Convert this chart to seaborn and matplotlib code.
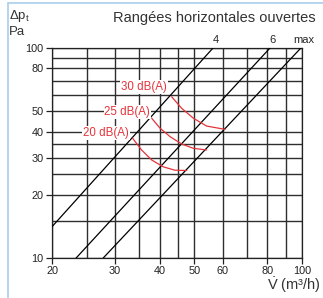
import numpy as np
import pandas as pd
import matplotlib.pyplot as plt
import seaborn as sns
from matplotlib.lines import Line2D
from matplotlib.ticker import NullLocator

sns.set_style('white')
plt.rcParams['font.family'] = ['Liberation Sans', 'DejaVu Sans']
plt.rcParams['mathtext.fontset'] = 'custom'
plt.rcParams['mathtext.rm'] = 'Liberation Sans'
plt.rcParams['mathtext.it'] = 'Liberation Sans'

# grille et graduations
x_grid = [20, 25, 30, 35, 40, 45, 50, 60, 70, 80, 90, 100]
y_grid = [10, 15, 20, 25, 30, 35, 40, 50, 60, 70, 80, 90, 100]
x_ticks = [20, 30, 40, 50, 60, 80, 100]
y_ticks = [10, 20, 30, 40, 50, 80, 100]

# droites de réglage (débit m3/h, perte de charge Pa)
line_names = ['4', '6', 'max']
line_v = [[20, 56.4], [23.35, 81.4], [27.8, 99.3]]
line_p = [[14.1, 100], [10, 100], [10, 100]]

# courbes de niveau sonore
arc_labels = ['20 dB(A)', '25 dB(A)', '30 dB(A)']
arc_v = [[33.6, 35.6, 38.0, 40.9, 44.1, 47.6],
         [38.0, 40.1, 42.8, 46.1, 49.7, 54.1],
         [43.2, 46.1, 49.7, 54.1, 60.9]]
arc_p = [[37.2, 32.7, 29.3, 27.2, 26.2, 26.1],
         [46.3, 41.5, 37.8, 34.9, 33.3, 32.7],
         [58.6, 51.6, 46.3, 42.5, 41.0]]
label_v = [32.8, 37.6, 41.9]
label_p = [39.4, 49.7, 65.0]

red = '#e5333a'

fig, ax = plt.subplots(figsize=(3.23, 2.98), dpi=100)
fig.subplots_adjust(left=0.161, right=0.935, bottom=0.134, top=0.839)
ax.set_xscale('log')
ax.set_yscale('log')

for v in x_grid:
    ax.axvline(v, color='#2e2e2e', lw=1.0, zorder=1)
for p in y_grid:
    ax.axhline(p, color='#2e2e2e', lw=1.0, zorder=1)

for name, vv, pp in zip(line_names, line_v, line_p):
    sns.lineplot(x=vv, y=pp, color='black', lw=0.9, ax=ax, zorder=3)
    ax.annotate(name, (vv[1], pp[1]), xytext=(2, 2), textcoords='offset points',
                ha='center', va='bottom', fontsize=8, annotation_clip=False)

for lab, vv, pp, lv, lp in zip(arc_labels, arc_v, arc_p, label_v, label_p):
    sns.lineplot(x=vv, y=pp, sort=False, color=red, lw=0.9, ax=ax, zorder=4)
    ax.text(lv, lp, lab, color=red, ha='right', va='center', fontsize=8.3, zorder=5,
            bbox=dict(facecolor='white', edgecolor='none', pad=0.6))

ax.set_xlim(20, 100)
ax.set_ylim(10, 100)
ax.set_xticks(x_ticks)
ax.set_xticklabels([str(t) for t in x_ticks])
ax.set_yticks(y_ticks)
ax.set_yticklabels([str(t) for t in y_ticks])
ax.xaxis.set_minor_locator(NullLocator())
ax.yaxis.set_minor_locator(NullLocator())
ax.tick_params(direction='out', length=4, width=0.9, pad=2, labelsize=7.8,
               bottom=True, left=True, colors='#222222')
for s in ax.spines.values():
    s.set_color('#222222')
    s.set_linewidth(0.9)
ax.set_xlabel('')
ax.set_ylabel('')

fig.text(0.978, 0.94, 'Rangées horizontales ouvertes', ha='right', va='center',
         fontsize=10.5, color='#333333')
fig.text(9 / 323, 0.946, 'Δp$_\\mathregular{t}$', ha='left', va='center', fontsize=9.5,
         color='#333333')
fig.text(9 / 323, 0.892, 'Pa', ha='left', va='center', fontsize=9.5, color='#333333')
fig.text(267 / 323, 0.044, '$\\dot{\\mathregular{V}}$ (m³/h)', ha='left', va='center',
         fontsize=10.5, color='#333333')

fig.add_artist(Line2D([8 / 323, 8 / 323], [0, 1 - 3 / 298], transform=fig.transFigure,
                      color='#a9d0ee', lw=1.2))
fig.add_artist(Line2D([8 / 323, 1], [1 - 3 / 298, 1 - 3 / 298], transform=fig.transFigure,
                      color='#a9d0ee', lw=1.2))

fig.savefig('out.png', dpi=100)
